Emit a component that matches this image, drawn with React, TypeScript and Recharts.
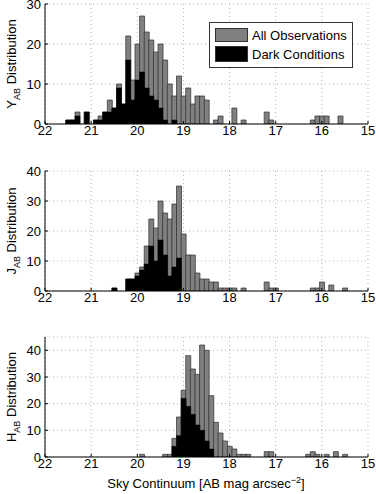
import React from 'react';
import { BarChart, Bar, XAxis, YAxis, CartesianGrid } from 'recharts';

// ---- data (bin centres in AB mag, counts per 0.1 mag bin) ----
const yMag = [21.5, 21.4, 21.3, 21.1, 20.9, 20.8, 20.7, 20.6, 20.5, 20.4, 20.3, 20.2, 20.1, 20.0, 19.9, 19.8, 19.7, 19.6, 19.5, 19.4, 19.3, 19.2, 19.1, 19.0, 18.9, 18.8, 18.7, 18.6, 18.5, 18.3, 18.2, 17.9, 17.7, 17.2, 17.1, 16.2, 16.1, 16.0, 15.9, 15.6];
const yAll = [1, 1, 3, 3, 1, 2, 3, 6, 4, 10, 5, 22, 11, 20, 27, 23, 21, 18, 20, 16, 10, 7, 12, 7, 9, 5, 7, 7, 6, 1, 2, 4, 1, 3, 1, 1, 2, 2, 2, 2];
const yDark = [1, 1, 2, 3, 1, 1, 3, 3, 4, 9, 5, 16, 6, 11, 13, 9, 7, 6, 4, 1, 0, 1, 0, 0, 0, 0, 0, 0, 0, 0, 0, 0, 0, 0, 0, 0, 0, 0, 0, 0];

const jMag = [20.5, 20.2, 20.1, 20.0, 19.9, 19.8, 19.7, 19.6, 19.5, 19.4, 19.3, 19.2, 19.1, 19.0, 18.9, 18.8, 18.7, 18.6, 18.5, 18.4, 18.3, 18.2, 18.1, 18.0, 17.9, 17.7, 17.2, 17.1, 17.0, 16.2, 16.1, 16.0, 15.8, 15.5];
const jAll = [1, 4, 4, 6, 8, 15, 24, 21, 30, 26, 24, 29, 35, 19, 12, 12, 6, 4, 4, 3, 3, 1, 1, 1, 1, 1, 3, 1, 1, 1, 1, 3, 2, 1];
const jDark = [1, 4, 4, 5, 7, 9, 15, 10, 17, 12, 5, 8, 11, 0, 0, 0, 0, 0, 0, 0, 0, 0, 0, 0, 0, 0, 0, 0, 0, 0, 0, 0, 0, 0];

const hMag = [19.9, 19.4, 19.3, 19.2, 19.1, 19.0, 18.9, 18.8, 18.7, 18.6, 18.5, 18.4, 18.3, 18.2, 18.1, 18.0, 17.9, 17.8, 17.7, 17.6, 17.2, 17.1, 16.3, 16.2, 16.1, 15.9, 15.7, 15.5];
const hAll = [1, 1, 1, 7, 15, 25, 38, 33, 31, 42, 40, 23, 13, 9, 6, 4, 3, 1, 1, 1, 2, 2, 1, 2, 1, 1, 2, 1];
const hDark = [0, 0, 0, 4, 8, 22, 19, 16, 12, 10, 6, 3, 0, 0, 0, 0, 0, 0, 0, 0, 0, 0, 0, 0, 0, 0, 0, 0];

const xTicks = [15, 16, 17, 18, 19, 20, 21, 22];
const yTicks30 = [0, 10, 20, 30];
const yTicks40 = [0, 10, 20, 30, 40];

const seriesNames = ['All Observations', 'Dark Conditions'];
const FONT = '"Liberation Sans", Arial, Helvetica, sans-serif';

const build = (mags: number[], all: number[], dark: number[]) =>
  mags.map((m, i) => ({ mag: m, all: all[i], dark: dark[i] }));

type PanelProps = {
  data: { mag: number; all: number; dark: number }[];
  yMax: number;
  yTicks: number[];
  top: number;
  band: string;
};

const Panel = ({ data, yMax, yTicks, top, band }: PanelProps) => (
  <div style={{ position: 'absolute', left: 0, top }}>
    <BarChart
      width={376}
      height={150}
      data={data}
      margin={{ top: 10, right: 8, bottom: 0, left: 0 }}
      barCategoryGap={0}
      barGap={0}
    >
      <CartesianGrid stroke="#b4b4b4" strokeDasharray="1 3" xAxisId="b" yAxisId="l" />
      <XAxis
        xAxisId="b"
        dataKey="mag"
        type="number"
        domain={[15, 22]}
        allowDataOverflow
        reversed
        ticks={xTicks}
        interval={0}
        height={20}
        tickSize={-3}
        tickMargin={5}
        axisLine={{ stroke: '#000' }}
        tickLine={{ stroke: '#000' }}
        tick={{ fill: '#000', fontSize: 13, fontFamily: FONT }}
      />
      <XAxis
        xAxisId="t"
        orientation="top"
        dataKey="mag"
        type="number"
        domain={[15, 22]}
        allowDataOverflow
        reversed
        ticks={xTicks}
        interval={0}
        height={0}
        tickSize={-3}
        axisLine={{ stroke: '#000' }}
        tickLine={{ stroke: '#000' }}
        tick={false}
      />
      <YAxis
        yAxisId="l"
        type="number"
        domain={[0, yMax]}
        allowDataOverflow
        ticks={yTicks}
        interval={0}
        width={45}
        tickSize={-3}
        tickMargin={7}
        axisLine={{ stroke: '#000' }}
        tickLine={{ stroke: '#000' }}
        tick={{ fill: '#000', fontSize: 13, fontFamily: FONT }}
      />
      <YAxis
        yAxisId="r"
        orientation="right"
        type="number"
        domain={[0, yMax]}
        allowDataOverflow
        ticks={yTicks}
        interval={0}
        width={0}
        tickSize={-3}
        axisLine={{ stroke: '#000' }}
        tickLine={{ stroke: '#000' }}
        tick={false}
      />
      <Bar
        xAxisId="b"
        yAxisId="l"
        dataKey="all"
        name={seriesNames[0]}
        fill="#808080"
        stroke="#2e2e2e"
        strokeWidth={0.7}
        isAnimationActive={false}
      />
      <Bar
        xAxisId="t"
        yAxisId="r"
        dataKey="dark"
        name={seriesNames[1]}
        fill="#000"
        stroke="#000"
        strokeWidth={0.5}
        isAnimationActive={false}
      />
    </BarChart>
    <div
      style={{
        position: 'absolute',
        left: 12,
        top: 70,
        transform: 'translate(-50%, -50%) rotate(-90deg)',
        whiteSpace: 'nowrap',
        fontFamily: FONT,
        fontSize: 13,
        color: '#000',
        lineHeight: '14px',
      }}
    >
      {band}
      <span style={{ fontSize: 9, position: 'relative', top: 4 }}>AB</span> Distribution
    </div>
  </div>
);

const LegendBox = () => (
  <div
    style={{
      position: 'absolute',
      left: 209,
      top: 22,
      width: 142,
      height: 44,
      border: '1px solid #333',
      background: '#fff',
      fontFamily: FONT,
      fontSize: 13,
      color: '#000',
    }}
  >
    {seriesNames.map((n, i) => (
      <div key={n} style={{ position: 'absolute', left: 5, top: 4 + i * 19, height: 16, display: 'flex', alignItems: 'center' }}>
        <div
          style={{
            width: 33,
            height: i === 0 ? 14 : 16,
            background: i === 0 ? '#808080' : '#000',
            border: '1px solid #333',
            boxSizing: 'border-box',
          }}
        />
        <span style={{ marginLeft: 4, whiteSpace: 'nowrap' }}>{n}</span>
      </div>
    ))}
  </div>
);

export default function App() {
  return (
    <div style={{ position: 'absolute', left: 0, top: 0, width: 376, height: 494, background: '#fff', overflow: 'hidden' }}>
      <Panel data={build(yMag, yAll, yDark)} yMax={30} yTicks={yTicks30} top={-6} band="Y" />
      <Panel data={build(jMag, jAll, jDark)} yMax={40} yTicks={yTicks40} top={161} band="J" />
      <Panel data={build(hMag, hAll, hDark)} yMax={45} yTicks={yTicks40} top={327} band="H" />
      <LegendBox />
      <div
        style={{
          position: 'absolute',
          left: 206,
          top: 476,
          transform: 'translateX(-50%)',
          whiteSpace: 'nowrap',
          fontFamily: FONT,
          fontSize: 13,
          color: '#000',
          lineHeight: '16px',
        }}
      >
        Sky Continuum [AB mag arcsec<span style={{ fontSize: 9, position: 'relative', top: -5 }}>−2</span>]
      </div>
    </div>
  );
}
